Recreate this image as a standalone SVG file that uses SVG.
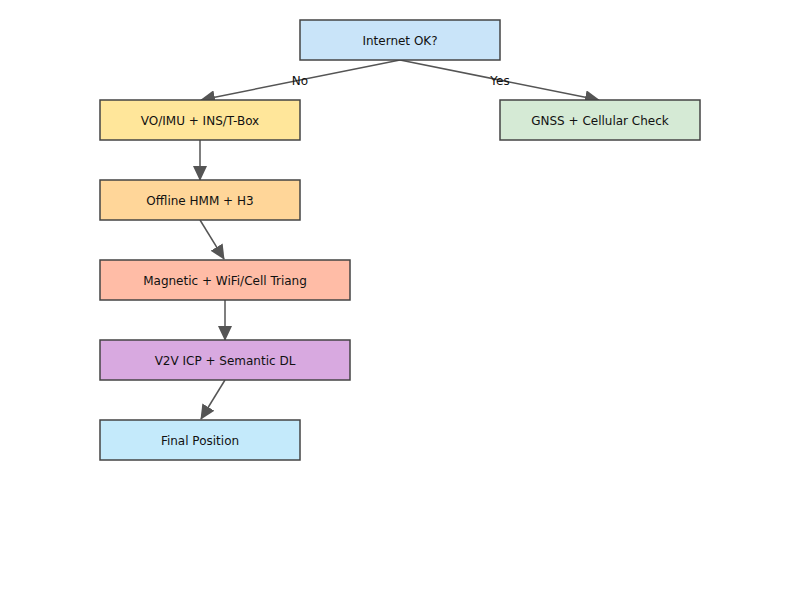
<svg xmlns="http://www.w3.org/2000/svg" width="800" height="600" viewBox="0 0 800 600">
<style>
.box{stroke:#444;stroke-width:1.5}
.t{font-family:"DejaVu Sans",sans-serif;font-size:12px;fill:#111;text-anchor:middle;dominant-baseline:central}
.c{stroke:#555;stroke-width:1.5;fill:none;marker-end:url(#ah)}
</style>
<defs>
<marker id="ah" viewBox="0 0 15 14" refX="14" refY="7" markerWidth="15" markerHeight="14" markerUnits="userSpaceOnUse" orient="auto">
<path d="M0,0 L15,7 L0,14 z" fill="#555"/>
</marker>
</defs>
<rect width="800" height="600" fill="#fff"/>
<g id="connectors">
<line class="c" x1="400" y1="60" x2="201" y2="100"/>
<line class="c" x1="400" y1="60" x2="599" y2="100"/>
<line class="c" x1="200" y1="140" x2="200" y2="180"/>
<line class="c" x1="200" y1="220" x2="224" y2="259"/>
<line class="c" x1="225" y1="300" x2="225" y2="340"/>
<line class="c" x1="225" y1="380" x2="201" y2="419"/>
<text class="t" x="300" y="81">No</text>
<text class="t" x="500" y="81">Yes</text>
</g>
<g id="internet"><rect class="box" x="300" y="20" width="200" height="40" fill="#c9e4f9"/><text class="t" x="400" y="41">Internet OK?</text></g>
<g id="vo"><rect class="box" x="100" y="100" width="200" height="40" fill="#ffe69a"/><text class="t" x="200" y="121">VO/IMU + INS/T-Box</text></g>
<g id="gnss"><rect class="box" x="500" y="100" width="200" height="40" fill="#d5ead5"/><text class="t" x="600" y="121">GNSS + Cellular Check</text></g>
<g id="offline"><rect class="box" x="100" y="180" width="200" height="40" fill="#ffd699"/><text class="t" x="200" y="201">Offline HMM + H3</text></g>
<g id="magnetic"><rect class="box" x="100" y="260" width="250" height="40" fill="#ffbca6"/><text class="t" x="225" y="281">Magnetic + WiFi/Cell Triang</text></g>
<g id="v2v"><rect class="box" x="100" y="340" width="250" height="40" fill="#d8a9e0"/><text class="t" x="225" y="361">V2V ICP + Semantic DL</text></g>
<g id="final"><rect class="box" x="100" y="420" width="200" height="40" fill="#c4eafb"/><text class="t" x="200" y="441">Final Position</text></g>
</svg>
